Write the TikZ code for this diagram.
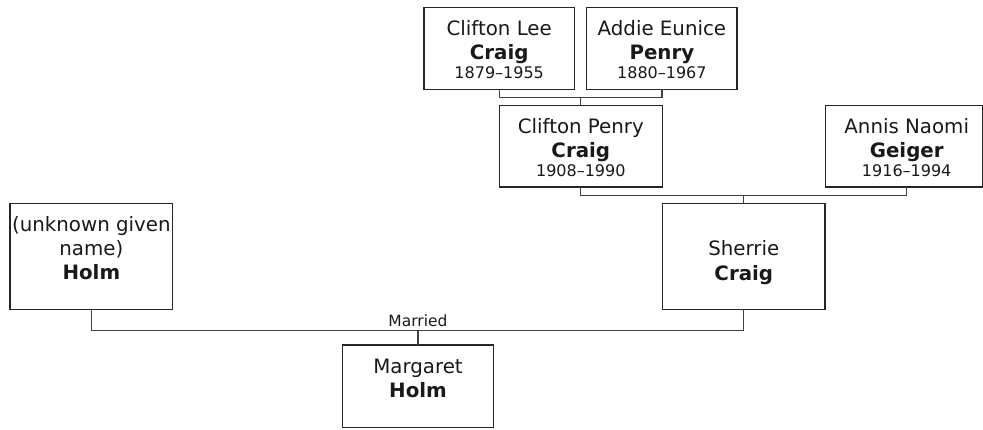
\documentclass[tikz,border=0pt]{standalone}
\usepackage{fontspec}
\setmainfont{DejaVu Sans}
\usetikzlibrary{calc}
\newcommand\ftName{\fontsize{19.8}{24}\selectfont}
\newcommand\ftBold{\fontsize{19.8}{24}\selectfont\bfseries}
\newcommand\ftDate{\fontsize{16}{19}\selectfont}
\newcommand\ftLab{\fontsize{15.5}{18}\selectfont}
\tikzset{
  person/.style={draw=black!85, line width=1.2pt, fill=white, inner sep=0pt, outer sep=0pt},
  conn/.style={draw=black!75, line width=1.3pt},
  txt/.style={anchor=base, inner sep=0pt, text=black!90},
}
\begin{document}
\begin{tikzpicture}[x=1pt,y=-1pt]
\useasboundingbox (0,0) rectangle (983,429);
% boxes
\node[person, minimum width=150.3pt, minimum height=82pt] (cl) at (499.2,48.3) {};
\node[person, minimum width=150.3pt, minimum height=82pt] (ad) at (661.9,48.3) {};
\node[person, minimum width=163pt, minimum height=81.3pt] (cp) at (580.8,146.35) {};
\node[person, minimum width=157.2pt, minimum height=81.3pt] (an) at (903.9,146.35) {};
\node[person, minimum width=162.7pt, minimum height=106.5pt] (un) at (91.35,256.55) {};
\node[person, minimum width=162.3pt, minimum height=106pt] (sh) at (743.8,256.3) {};
\node[person, minimum width=150.6pt, minimum height=82.7pt] (ma) at (418,386.35) {};
\coordinate (anb) at (906.7,187);
% texts
\node[txt] (cl1) at (499.2,35) {\ftName Clifton Lee};
\node[txt] (cl2) at (499.2,59.3) {\ftBold Craig};
\node[txt] (cl3) at (499.2,78.3) {\ftDate 1879–1955};
\node[txt] (ad1) at (661.9,35) {\ftName Addie Eunice};
\node[txt] (ad2) at (661.9,59.3) {\ftBold Penry};
\node[txt] (ad3) at (661.9,78.3) {\ftDate 1880–1967};
\node[txt] (cp1) at (580.8,133) {\ftName Clifton Penry};
\node[txt] (cp2) at (580.8,157.5) {\ftBold Craig};
\node[txt] (cp3) at (580.8,176.6) {\ftDate 1908–1990};
\node[txt] (an1) at (906.7,133) {\ftName Annis Naomi};
\node[txt] (an2) at (906.7,157.5) {\ftBold Geiger};
\node[txt] (an3) at (906.7,176.6) {\ftDate 1916–1994};
\node[txt] (un1) at (91.35,231.6) {\ftName (unknown given};
\node[txt] (un2) at (91.35,255.2) {\ftName name)};
\node[txt] (un3) at (91.35,279.6) {\ftBold Holm};
\node[txt] (sh1) at (743.8,255.2) {\ftName Sherrie};
\node[txt] (sh2) at (743.8,280) {\ftBold Craig};
\node[txt] (ma1) at (418,373.7) {\ftName Margaret};
\node[txt] (ma2) at (418,397.5) {\ftBold Holm};
% connectors
\draw[conn] (cl.south) -- ++(0,8.4) coordinate (b1) -| (ad.south);
\draw[conn] (cp.north) -- (cp.north |- b1);
\draw[conn] (cp.south) -- ++(0,8.7) coordinate (b2) -| (anb);
\draw[conn] (sh.north) -- (sh.north |- b2);
\draw[conn] (un.south) -- ++(0,20.9) coordinate (b3) -| (sh.south);
\draw[conn] (ma.north) -- (ma.north |- b3) node[txt, pos=1, yshift=4.2pt] (mar) {\ftLab Married};
\end{tikzpicture}
\end{document}
